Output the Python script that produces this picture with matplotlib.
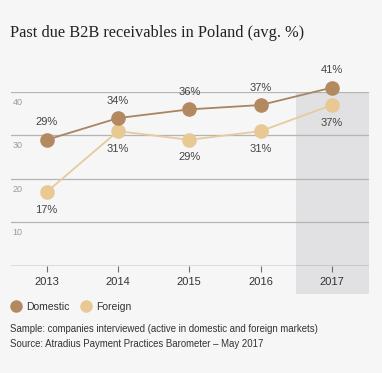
import matplotlib
matplotlib.use("Agg")
from matplotlib import pyplot as plt
from matplotlib.patches import Rectangle
from matplotlib.lines import Line2D

years = ['2013', '2014', '2015', '2016', '2017']
domestic = [29, 34, 36, 37, 41]
foreign = [17, 31, 29, 31, 37]
y_ticks = [10, 20, 30, 40]

dom_color = '#b38a60'
for_color = '#e8c893'
bg = '#f6f6f6'
narrow = ['Liberation Sans Narrow', 'Liberation Sans', 'DejaVu Sans']

fig = plt.figure(figsize=(3.82, 3.73), dpi=100, facecolor=bg)
ax = fig.add_axes([0.0288, 0.2869, 0.9372, 0.4665], facecolor=bg)

x = list(range(len(years)))
ax.set_xlim(-0.5, 4.52)
ax.set_ylim(0, 40)

# highlighted last year
ax.add_patch(Rectangle((3.5, -0.161), 1.02, 1.161, transform=ax.get_xaxis_transform(),
                       facecolor='#e1e1e3', edgecolor='none', clip_on=False, zorder=0))

for v in y_ticks:
    ax.axhline(v, color='#b4b4b4', lw=0.9, zorder=1)
    ax.annotate(str(v), (0, v), xycoords=('axes fraction', 'data'), xytext=(1, -4),
                textcoords='offset points', ha='left', va='top', fontsize=6.5,
                color='#9a9a9a', family=narrow)
ax.axhline(0, color='#6e6e6e', lw=1, zorder=2)

ax.plot(x, domestic, color='#a88462', lw=1.3, marker='o', ms=9.5,
        mfc=dom_color, mec=dom_color, clip_on=False, zorder=4)
ax.plot(x, foreign, color='#e6cb9c', lw=1.3, marker='o', ms=9.5,
        mfc=for_color, mec=for_color, clip_on=False, zorder=3)

for i, v in enumerate(domestic):
    ax.annotate(f'{v}%', (i, v), xytext=(0, 9), textcoords='offset points',
                ha='center', va='bottom', fontsize=8, color='#444444', family=narrow,
                annotation_clip=False)
for i, v in enumerate(foreign):
    ax.annotate(f'{v}%', (i, v), xytext=(0, -9), textcoords='offset points',
                ha='center', va='top', fontsize=8, color='#444444', family=narrow,
                annotation_clip=False)

for s in ax.spines.values():
    s.set_visible(False)
ax.set_yticks([])
ax.set_xticks(x)
ax.set_xticklabels(years, fontsize=8, color='#333333', family=narrow)
ax.tick_params(axis='x', length=4, width=0.8, color='#6e6e6e', pad=4)

fig.text(0.026, 0.912, 'Past due B2B receivables in Poland (avg. %)', fontsize=11.8,
         family='Liberation Serif', color='#222222', va='center', ha='left')

handles = [Line2D([], [], ls='none', marker='o', ms=8, mfc=dom_color, mec=dom_color),
           Line2D([], [], ls='none', marker='o', ms=8, mfc=for_color, mec=for_color)]
fig.legend(handles, ['Domestic', 'Foreign'], loc='center left', bbox_to_anchor=(0.0, 0.177),
           ncol=2, frameon=False, handletextpad=0.4, columnspacing=1.0, handlelength=1.2,
           prop={'family': narrow, 'size': 7.5}, labelcolor='#333333')

fig.text(0.026, 0.118, 'Sample: companies interviewed (active in domestic and foreign markets)',
         fontsize=6.9, family=narrow, color='#333333', va='center')
fig.text(0.026, 0.078, 'Source: Atradius Payment Practices Barometer \u2013 May 2017',
         fontsize=6.9, family=narrow, color='#333333', va='center')

fig.savefig('out.png', dpi=100, facecolor=bg)
